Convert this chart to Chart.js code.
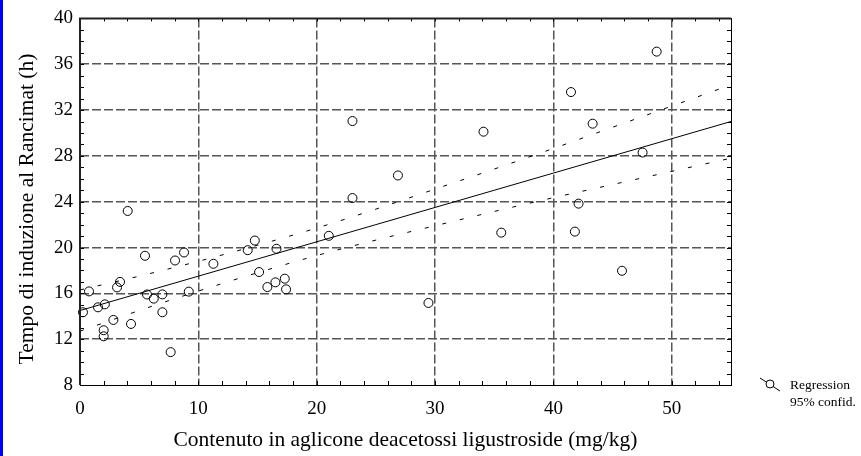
<!DOCTYPE html>
<html>
<head>
<meta charset="utf-8">
<script src="https://cdn.jsdelivr.net/npm/chart.js@4/dist/chart.umd.min.js"></script>
<style>
    html, body { margin: 0; padding: 0; background: #fff; }
    #wrap { position: relative; width: 861px; height: 456px; }
    #strip { position: absolute; left: 0; top: 0; width: 3px; height: 456px; background: #0000ff; }
    #chart { position: absolute; left: 0; top: 0; }
</style>
</head>
<body>
<div id="wrap">
    <div id="strip"></div>
    <canvas id="chart" width="861" height="456"></canvas>
</div>
<script>
// Campioni: contenuto (mg/kg) e tempo di induzione (h)
const contenuto = [
    0.25, 0.76, 1.52, 2.1, 2.0, 2.0, 2.82, 3.13, 3.38, 4.03, 4.31, 5.49, 5.66, 6.23,
    6.96, 6.96, 7.66, 8.03, 8.79, 9.19, 11.27, 14.17, 14.77, 15.13, 15.83, 16.51, 16.6,
    17.3, 17.41, 21.02, 23.02, 23.02, 26.86, 29.44, 34.09, 35.59, 41.48, 41.81, 42.12,
    43.31, 45.79, 47.53, 48.72
];
const tempo = [
    14.35, 16.17, 14.78, 15.04, 12.78, 12.25, 13.68, 16.52, 17.0, 23.19, 13.33, 19.28, 15.9, 15.54,
    15.91, 14.35, 10.87, 18.87, 19.57, 16.15, 18.58, 19.77, 20.61, 17.86, 16.55, 16.96, 19.89,
    17.28, 16.35, 21.02, 31.04, 24.32, 26.29, 15.16, 30.11, 21.3, 33.57, 21.39, 23.83,
    30.81, 17.97, 28.29, 37.1
];

// Retta di regressione e limiti di confidenza al 95%
const fitX = [0, 5, 10, 15, 20, 25, 30, 35, 40, 45, 50, 55];
const fitY = [14.5, 16.0, 17.5, 19.0, 20.5, 22.0, 23.5, 25.0, 26.5, 28.0, 29.5, 31.0];
const confSup = [16.3, 17.5, 18.8, 20.2, 21.7, 23.35, 25.1, 26.85, 28.65, 30.5, 32.35, 34.2];
const confInf = [12.7, 14.5, 16.2, 17.8, 19.3, 20.65, 21.9, 23.15, 24.35, 25.5, 26.65, 27.8];

const xTicks = [0, 10, 20, 30, 40, 50];
const yTicks = [8, 12, 16, 20, 24, 28, 32, 36, 40];

const serif = '"Liberation Serif", "DejaVu Serif", serif';

function toPoints(xs, ys) {
    return xs.map((x, i) => ({ x: x, y: ys[i] }));
}

// Cornice, tacche minori, titolo dell'asse Y e legenda
const framePlugin = {
    id: 'frame',
    afterDraw(chart) {
        const ctx = chart.ctx;
        const a = chart.chartArea;
        const sx = chart.scales.x;
        const sy = chart.scales.y;
        ctx.save();

        // tacche minori verso l'interno
        ctx.strokeStyle = '#000';
        ctx.lineWidth = 1;
        ctx.beginPath();
        for (let v = 0; v <= 55; v += 2) {
            const px = Math.round(sx.getPixelForValue(v)) + 0.5;
            ctx.moveTo(px, a.bottom);
            ctx.lineTo(px, a.bottom - 4);
            ctx.moveTo(px, a.top);
            ctx.lineTo(px, a.top + 3);
        }
        for (let v = 8; v <= 40; v += 1) {
            const py = Math.round(sy.getPixelForValue(v)) + 0.5;
            ctx.moveTo(a.left, py);
            ctx.lineTo(a.left + 4, py);
            ctx.moveTo(a.right, py);
            ctx.lineTo(a.right - 4, py);
        }
        ctx.stroke();

        // cornice
        ctx.strokeStyle = '#000';
        ctx.lineWidth = 1;
        ctx.strokeRect(Math.round(a.left) + 0.5, Math.round(a.top) + 0.5,
            Math.round(a.right - a.left), Math.round(a.bottom - a.top));
        ctx.strokeStyle = '#222';
        ctx.lineWidth = 2;
        ctx.beginPath();
        ctx.moveTo(a.left, a.bottom);
        ctx.lineTo(a.left, a.top);
        ctx.lineTo(a.right, a.top);
        ctx.stroke();

        // titolo asse Y
        ctx.save();
        ctx.translate(33, 209);
        ctx.rotate(-Math.PI / 2);
        ctx.fillStyle = '#000';
        ctx.font = '21.5px ' + serif;
        ctx.textAlign = 'center';
        ctx.textBaseline = 'alphabetic';
        ctx.fillText('Tempo di induzione al Rancimat (h)', 0, 0);
        ctx.restore();

        // legenda
        const lx = 770, ly = 384;
        ctx.strokeStyle = '#000';
        ctx.lineWidth = 1;
        ctx.beginPath();
        ctx.moveTo(lx - 10, ly - 6);
        ctx.lineTo(lx + 10, ly + 7);
        ctx.stroke();
        ctx.fillStyle = '#fff';
        ctx.beginPath();
        ctx.arc(lx, ly, 4, 0, Math.PI * 2);
        ctx.fill();
        ctx.stroke();
        ctx.fillStyle = '#000';
        ctx.font = '13.5px ' + serif;
        ctx.textAlign = 'left';
        ctx.textBaseline = 'middle';
        ctx.fillText('Regression', 790, 385);
        ctx.fillText('95% confid.', 790, 402);
        ctx.restore();
    }
};

function gridColor(ctx, lo, hi) {
    const v = ctx.tick ? ctx.tick.value : null;
    if (v === lo || v === hi) return 'rgba(0,0,0,0)';
    return '#555';
}

const dashLine = {
    type: 'line',
    borderColor: '#000',
    borderWidth: 1,
    borderDash: [4, 14],
    pointRadius: 0,
    fill: false,
    cubicInterpolationMode: 'monotone'
};

new Chart(document.getElementById('chart'), {
    type: 'scatter',
    data: {
        datasets: [
            {
                label: 'Campioni',
                data: toPoints(contenuto, tempo),
                pointStyle: 'circle',
                pointRadius: 4.5,
                borderColor: '#000',
                borderWidth: 1,
                backgroundColor: 'rgba(0,0,0,0)',
                clip: false
            },
            {
                label: 'Regression',
                type: 'line',
                data: toPoints(fitX, fitY),
                borderColor: '#000',
                borderWidth: 1,
                pointRadius: 0,
                fill: false
            },
            Object.assign({ label: '95% sup', data: toPoints(fitX, confSup) }, dashLine),
            Object.assign({ label: '95% inf', data: toPoints(fitX, confInf) }, dashLine)
        ]
    },
    options: {
        responsive: false,
        animation: false,
        events: [],
        layout: { padding: { left: 0, top: 16, right: 130, bottom: 0 } },
        plugins: {
            legend: { display: false },
            tooltip: { enabled: false }
        },
        scales: {
            x: {
                type: 'linear',
                min: 0,
                max: 55,
                afterFit: s => { s.height = 71; },
                afterBuildTicks: s => { s.ticks = xTicks.map(v => ({ value: v })); },
                border: { display: false, dash: [9, 3] },
                grid: {
                    drawTicks: false,
                    lineWidth: 1.5,
                    color: c => gridColor(c, 0, 55)
                },
                ticks: {
                    padding: 13,
                    color: '#000',
                    font: { family: serif, size: 19 }
                },
                title: {
                    display: true,
                    text: 'Contenuto in aglicone deacetossi ligustroside (mg/kg)',
                    color: '#000',
                    font: { family: serif, size: 21.5 },
                    padding: { top: 4, bottom: 3 }
                }
            },
            y: {
                type: 'linear',
                min: 8,
                max: 40,
                afterFit: s => { s.width = 80; },
                afterBuildTicks: s => { s.ticks = yTicks.map(v => ({ value: v })); },
                border: { display: false, dash: [9, 3] },
                grid: {
                    drawTicks: false,
                    lineWidth: 1.5,
                    color: c => gridColor(c, 8, 40)
                },
                ticks: {
                    padding: 7,
                    color: '#000',
                    font: { family: serif, size: 19 }
                }
            }
        }
    },
    plugins: [framePlugin]
});
</script>
</body>
</html>
